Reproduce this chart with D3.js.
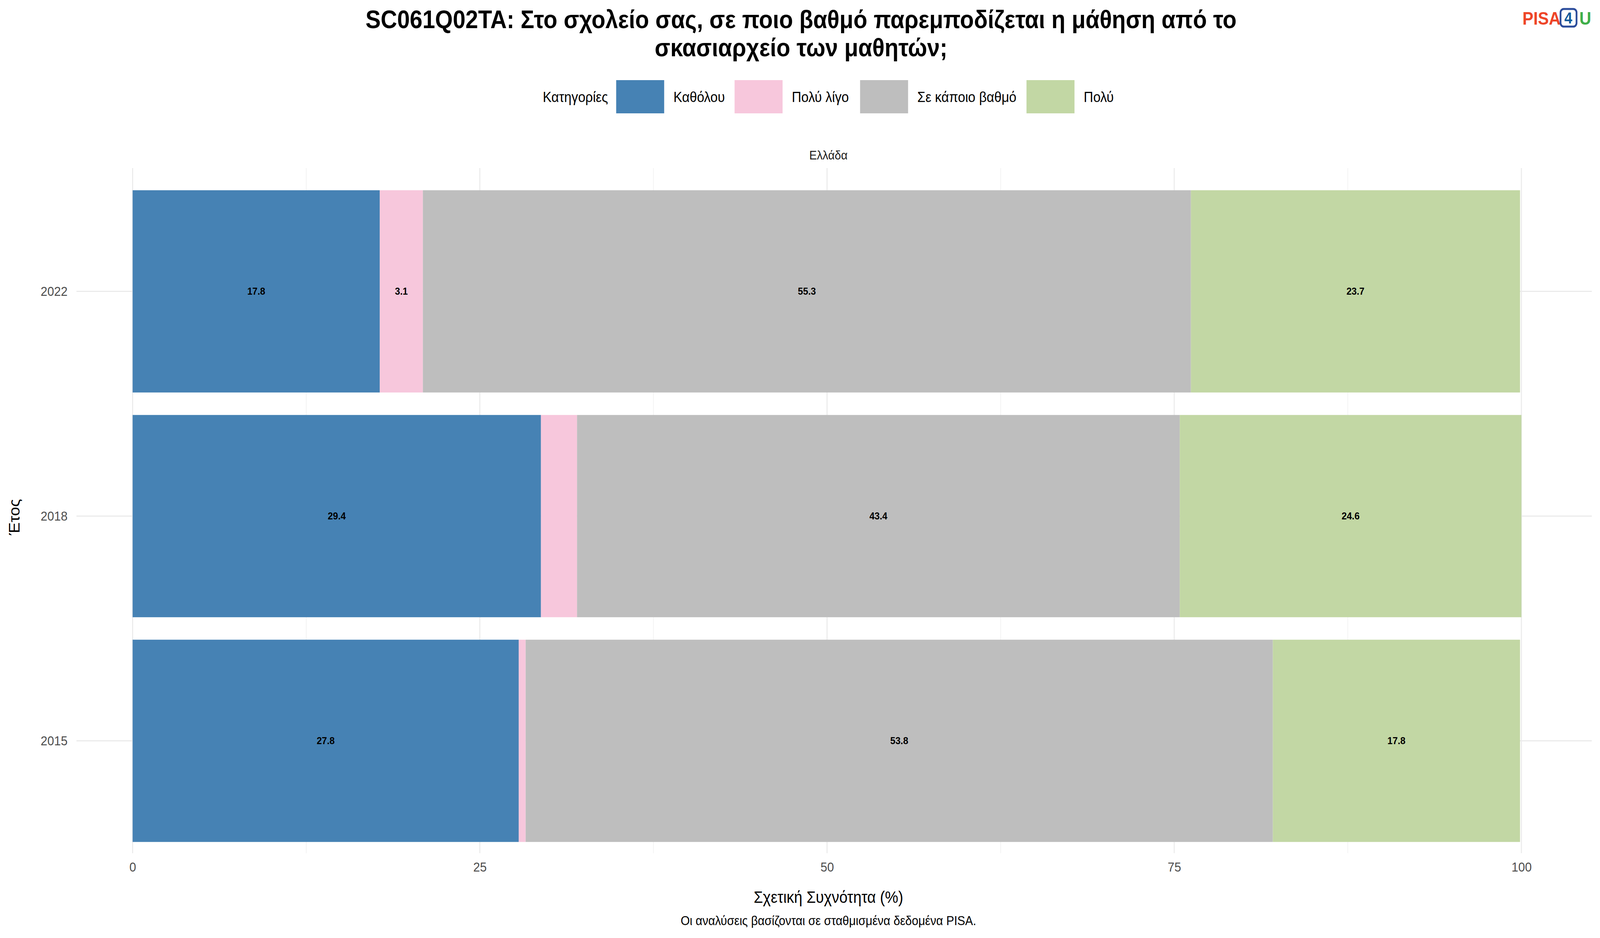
<!DOCTYPE html>
<html><head><meta charset="utf-8">
<script src="https://cdn.jsdelivr.net/npm/d3@7"></script>
<style>html,body{margin:0;padding:0;overflow:hidden;background:#fff}svg{display:block}text{font-family:"Liberation Sans",Arial,sans-serif}</style>
</head><body>
<svg id="chart" viewBox="0 0 4500 2400" preserveAspectRatio="none" style="width:100vw;height:100vh"></svg>
<script>
var years = ["2022", "2018", "2015"];
var categories = ["Καθόλου", "Πολύ λίγο", "Σε κάποιο βαθμό", "Πολύ"];
var colors = ["#4682B4", "#F7C7DC", "#BEBEBE", "#C2D7A4"];
var v2022 = [17.8, 3.1, 55.3, 23.7];
var v2018 = [29.4, 2.6, 43.4, 24.6];
var v2015 = [27.8, 0.5, 53.8, 17.8];
var xTicks = [0, 25, 50, 75, 100];
var values = {"2022": v2022, "2018": v2018, "2015": v2015};

var svg = d3.select("#chart");
var x = d3.scaleLinear().domain([0, 100]).range([373, 4279]);
var y = d3.scaleBand().domain(years).range([458, 2183]).paddingInner(0.1).paddingOuter(0.05);
var panelL = 215, panelR = 4477, panelT = 430, panelB = 2183;

// grid
var g = svg.append("g");
d3.range(12.5, 100, 25).forEach(function(t){
  g.append("line").attr("x1", x(t)).attr("x2", x(t)).attr("y1", panelT).attr("y2", panelB)
    .attr("stroke", "#F2F2F2").attr("stroke-width", 2);
});
xTicks.forEach(function(t){
  g.append("line").attr("x1", x(t)).attr("x2", x(t)).attr("y1", panelT).attr("y2", panelB)
    .attr("stroke", "#EBEBEB").attr("stroke-width", 3);
});
years.forEach(function(yr){
  var cy = y(yr) + y.bandwidth()/2;
  g.append("line").attr("x1", panelL).attr("x2", panelR).attr("y1", cy).attr("y2", cy)
    .attr("stroke", "#EBEBEB").attr("stroke-width", 3);
});

// bars
years.forEach(function(yr){
  var cum = 0;
  values[yr].forEach(function(v, i){
    svg.append("rect").attr("x", x(cum)).attr("width", x(cum + v) - x(cum))
      .attr("y", y(yr)).attr("height", y.bandwidth()).attr("fill", colors[i]);
    if (v >= 3) {
      svg.append("text").attr("x", x(cum + v/2)).attr("y", y(yr) + y.bandwidth()/2 + 9)
        .attr("text-anchor", "middle").attr("font-size", 26).attr("font-weight", "bold")
        .text(v.toFixed(1));
    }
    cum += v;
  });
});

// axes
var xa = svg.append("g").attr("transform", "translate(0," + (panelB + 10) + ")")
  .call(d3.axisBottom(x).tickValues(xTicks).tickSize(0).tickFormat(d3.format("d")));
xa.select(".domain").remove();
xa.selectAll("text").attr("font-size", 34).attr("fill", "#4D4D4D").attr("dy", "1em");
var ya = svg.append("g").attr("transform", "translate(" + (panelL - 22) + ",0)")
  .call(d3.axisLeft(y).tickSize(0));
ya.select(".domain").remove();
ya.selectAll("text").attr("font-size", 34).attr("fill", "#4D4D4D").attr("dy", "0.35em");

// texts
svg.append("text").attr("x", 2330).attr("y", 408).attr("text-anchor", "middle").attr("font-size", 32).attr("fill", "#1A1A1A").text("Ελλάδα");
svg.append("text").attr("x", 2330).attr("y", 2310).attr("text-anchor", "middle").attr("font-size", 42).text("Σχετική Συχνότητα (%)");
svg.append("text").attr("x", 2330).attr("y", 2367).attr("text-anchor", "middle").attr("font-size", 33).text("Οι αναλύσεις βασίζονται σε σταθμισμένα δεδομένα PISA.");
svg.append("text").attr("transform", "translate(55,1323) rotate(-90)").attr("text-anchor", "middle").attr("font-size", 42).text("Έτος");
svg.append("text").attr("x", 2253).attr("y", 72).attr("text-anchor", "middle").attr("font-size", 64).attr("font-weight", "bold")
  .text("SC061Q02TA: Στο σχολείο σας, σε ποιο βαθμό παρεμποδίζεται η μάθηση από το");
svg.append("text").attr("x", 2253).attr("y", 144).attr("text-anchor", "middle").attr("font-size", 64).attr("font-weight", "bold")
  .text("σκασιαρχείο των μαθητών;");

// legend
var legX = [1733, 2066, 2419, 2887];
svg.append("text").attr("x", 1710).attr("y", 261).attr("text-anchor", "end").attr("font-size", 37).text("Κατηγορίες");
categories.forEach(function(c, i){
  svg.append("rect").attr("x", legX[i]).attr("y", 205).attr("width", 135).attr("height", 85).attr("fill", colors[i]);
  svg.append("text").attr("x", legX[i] + 161).attr("y", 261).attr("font-size", 37).text(c);
});

// logo
svg.append("text").attr("x", 4282).attr("y", 63).attr("font-size", 46).attr("font-weight", "bold").attr("fill", "#EE4528").text("PISA");
svg.append("rect").attr("x", 4389).attr("y", 23).attr("width", 45).attr("height", 45).attr("rx", 9)
  .attr("fill", "none").attr("stroke", "#2B4C9B").attr("stroke-width", 5);
svg.append("text").attr("x", 4411).attr("y", 60).attr("text-anchor", "middle").attr("font-size", 40).attr("font-weight", "bold").attr("fill", "#0F5A9C").text("4");
svg.append("text").attr("x", 4442).attr("y", 63).attr("font-size", 46).attr("font-weight", "bold").attr("fill", "#3FAE49").text("U");
</script></body></html>
